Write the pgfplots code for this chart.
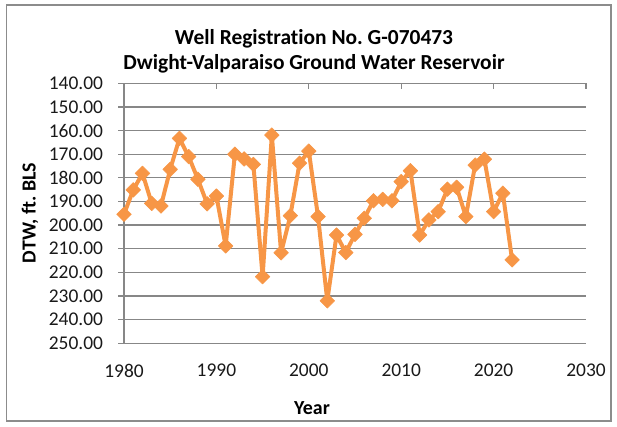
\documentclass[border=0pt]{standalone}
\usepackage{pgfplots}
\pgfplotsset{compat=1.18}
\usepackage{fontspec}
\setmainfont[Ligatures=NoCommon]{Carlito}
\definecolor{xlorange}{HTML}{F79646}
\definecolor{gridgray}{HTML}{878787}
\definecolor{bordergray}{HTML}{8C8C8C}
\frenchspacing
\begin{document}
\begin{tikzpicture}[x=1bp,y=1bp]
\useasboundingbox (0,0) rectangle (617,426);
\draw[bordergray, line width=1.5bp] (6.5,5) rectangle (611,421);
\begin{axis}[
  at={(124bp,82.7bp)}, anchor=south west,
  scale only axis, width=462bp, height=260bp,
  xmin=1980, xmax=2030, ymin=140, ymax=250, y dir=reverse,
  xtick={1980,1990,...,2030}, ytick={140,150,...,250},
  axis line style={draw=none},
  ymajorgrids, grid style={gridgray, line width=1.3bp},
  tick style={gridgray, line width=1.3bp},
  tick align=inside, major tick length=6bp,
  xtick pos=right, ytick pos=left,
  xticklabel pos=left,
  ytick style={xshift=-6bp},
  /pgf/number format/assume math mode=true,
  ticklabel style={font=\fontsize{19.5}{22}\selectfont, text=black!90},
  xticklabel style={/pgf/number format/1000 sep={}, yshift=-17.5bp},
  yticklabel style={/pgf/number format/.cd, fixed, fixed zerofill, precision=2, /tikz/.cd, xshift=-17.5bp},
  clip=false,
]
\addplot[color=xlorange, line width=4bp, line join=round, mark=square*, mark size=5.2bp,
  mark options={rotate=45, fill=xlorange, draw=xlorange, line width=0.5bp}]
  table[row sep=\\] {
  x y \\
  1980 195.4 \\
  1981 185.1 \\
  1982 178.1 \\
  1983 190.8 \\
  1984 191.9 \\
  1985 176.4 \\
  1986 163.3 \\
  1987 171.0 \\
  1988 180.6 \\
  1989 191.0 \\
  1990 187.7 \\
  1991 208.8 \\
  1992 170.0 \\
  1993 172.0 \\
  1994 174.3 \\
  1995 221.8 \\
  1996 161.9 \\
  1997 211.7 \\
  1998 196.0 \\
  1999 173.8 \\
  2000 168.7 \\
  2001 196.4 \\
  2002 232.0 \\
  2003 204.2 \\
  2004 211.6 \\
  2005 203.9 \\
  2006 197.1 \\
  2007 189.7 \\
  2008 189.1 \\
  2009 189.7 \\
  2010 181.6 \\
  2011 177.0 \\
  2012 204.2 \\
  2013 197.8 \\
  2014 194.3 \\
  2015 184.8 \\
  2016 184.0 \\
  2017 196.4 \\
  2018 174.6 \\
  2019 172.1 \\
  2020 194.3 \\
  2021 186.5 \\
  2022 214.7 \\
  };
\draw[gridgray, line width=1.3bp] (axis cs:1980,250) -- (axis cs:1980,140) -- (axis cs:2030,140);
\end{axis}
\node[font=\bfseries\fontsize{21.5}{24}\selectfont] at (314,387) {Well Registration No. G-070473};
\node[font=\bfseries\fontsize{21.5}{24}\selectfont] at (314,362) {Dwight-Valparaiso Ground Water Reservoir};
\node[font=\bfseries\fontsize{20}{22}\selectfont, rotate=90] at (30,213) {DTW, ft. BLS};
\node[font=\bfseries\fontsize{20}{22}\selectfont] at (312,18) {Year};
\end{tikzpicture}
\end{document}
